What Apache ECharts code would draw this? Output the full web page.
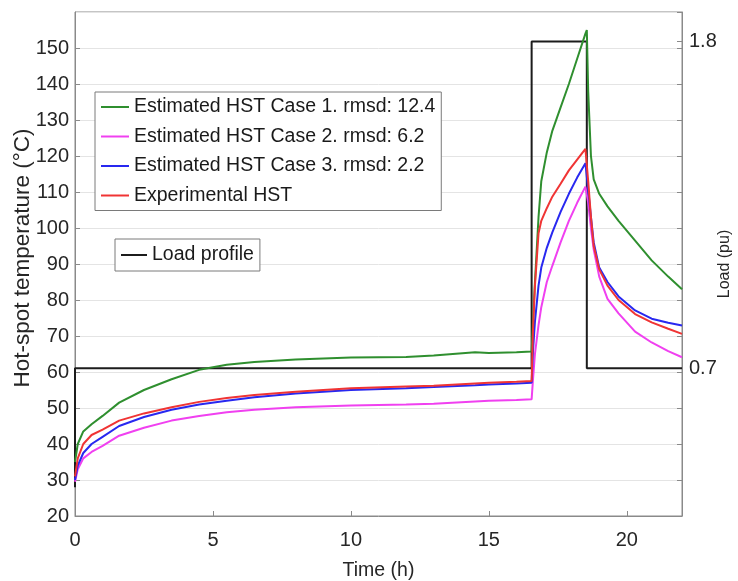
<!DOCTYPE html>
<html>
<head>
<meta charset="utf-8">
<script src="https://cdn.jsdelivr.net/npm/echarts@6/dist/echarts.min.js"></script>
<style>
html,body{margin:0;padding:0;background:#fff;}
#chart{width:738px;height:581px;}
</style>
</head>
<body>
<div id="chart"></div>
<script>
// ---- data ----
const time = [0, 0.1, 0.3, 0.6, 1, 1.6, 2.5, 3.5, 4.5, 5.5, 6.5, 8, 10, 12, 13, 14.5, 15, 16, 16.55,
  16.6, 16.67, 16.8, 16.9, 17.1, 17.3, 17.6, 17.9, 18.2, 18.5, 18.55, 18.6, 18.7, 18.8, 19.0, 19.3, 19.7, 20.3, 20.9, 21.5, 22];

const hstCase1 = [35, 40, 43.5, 45.5, 47.8, 51.5, 55, 58, 60.6, 62, 62.8, 63.5, 64, 64.2, 64.6, 65.5, 65.3, 65.5, 65.7,
  74, 85, 103, 113, 121, 127, 133.5, 140, 147, 154, 155, 138, 120, 113.5, 109.5, 106, 102, 96.5, 91, 86.5, 83];

const hstCase2 = [29.5, 33, 36, 37.8, 39.5, 42.3, 44.5, 46.5, 47.8, 48.8, 49.5, 50.2, 50.7, 51, 51.2, 51.8, 52, 52.2, 52.4,
  58, 65, 73, 78, 85, 89.5, 96, 102, 107, 111.5, 112, 107, 100, 94, 86.5, 80.3, 76.3, 71.2, 68.2, 65.8, 64.1];

const hstCase3 = [30, 34, 37.5, 40, 42, 45, 47.5, 49.5, 51, 52, 53, 54, 55, 55.5, 55.8, 56.3, 56.5, 56.8, 57,
  66, 74, 84, 89, 94.5, 98.8, 104.5, 109.5, 114, 118, 118.3, 110.5, 103, 96, 89, 85, 81, 77.1, 74.8, 73.7, 72.9];

const hstExperimental = [31, 36, 40, 42.5, 44, 46.5, 48.5, 50.2, 51.7, 52.8, 53.6, 54.5, 55.5, 56, 56.2, 56.8, 57, 57.3, 57.5,
  72, 84, 98.5, 102, 105.5, 108.7, 112.3, 116, 119, 122, 122.3, 113, 103, 95, 88.5, 84, 80, 76.1, 73.8, 72, 70.6];

const loadTime = [0, 0, 16.55, 16.55, 18.55, 18.55, 22];
const loadValue = [0.3, 0.7, 0.7, 1.8, 1.8, 0.7, 0.7];

const seriesNames = ['Estimated HST Case 1. rmsd: 12.4', 'Estimated HST Case 2. rmsd: 6.2',
  'Estimated HST Case 3. rmsd: 2.2', 'Experimental HST'];
const loadName = 'Load profile';
const loadTickLabels = [0.7, 1.8];

// ---- build ----
const zip = (xs, ys) => xs.map((x, i) => [x, ys[i]]);
const FONT = 'Liberation Sans, Arial, Helvetica, sans-serif';
const AX = '#8a8a8a';
const TXT = '#262626';
const colors = ['#2f8f2f', '#f040f0', '#2828f0', '#f03434'];
const tempData = [hstCase1, hstCase2, hstCase3, hstExperimental];

const chart = echarts.init(document.getElementById('chart'), null, {renderer: 'canvas'});

const tempSeries = tempData.map((vals, i) => ({
  name: seriesNames[i],
  type: 'line',
  yAxisIndex: 0,
  data: zip(time, vals),
  symbol: 'none',
  showSymbol: false,
  lineStyle: {width: 2, color: colors[i]},
  itemStyle: {color: colors[i]},
  z: 3
}));

const option = {
  backgroundColor: '#fff',
  animation: false,
  textStyle: {fontFamily: FONT},
  grid: {left: 75, right: 56, top: 12, bottom: 65, show: true, borderColor: AX, borderWidth: 1,
         containLabel: false, outerBoundsMode: 'none'},
  legend: [
    {
      data: seriesNames,
      orient: 'vertical',
      left: 95, top: 92,
      icon: 'rect', itemWidth: 28, itemHeight: 2, itemGap: 9.5,
      padding: [5, 6, 5, 6],
      borderColor: '#7a7a7a', borderWidth: 1, backgroundColor: '#fff',
      textStyle: {fontSize: 19.5, color: '#1a1a1a', fontFamily: FONT, lineHeight: 20},
      selectedMode: false
    },
    {
      data: [loadName],
      orient: 'vertical',
      left: 115, top: 239,
      icon: 'rect', itemWidth: 26, itemHeight: 2,
      padding: [6, 6, 6, 6],
      borderColor: '#7a7a7a', borderWidth: 1, backgroundColor: '#fff',
      textStyle: {fontSize: 19.5, color: '#1a1a1a', fontFamily: FONT, lineHeight: 20},
      selectedMode: false
    }
  ],
  xAxis: {
    type: 'value', min: 0, max: 22, interval: 5,
    name: 'Time (h)', nameLocation: 'middle', nameGap: 45, nameMoveOverlap: false,
    nameTextStyle: {fontSize: 19.5, color: TXT, fontFamily: FONT},
    axisLine: {lineStyle: {color: AX}},
    axisTick: {inside: true, length: 5, lineStyle: {color: AX}},
    axisLabel: {fontSize: 20, color: TXT, margin: 14, showMaxLabel: false, fontFamily: FONT},
    splitLine: {show: false}
  },
  yAxis: [
    {
      type: 'value', min: 20, max: 160, interval: 10, position: 'left',
      name: 'Hot-spot temperature (°C)', nameLocation: 'middle', nameGap: 41, nameRotate: 90,
      nameMoveOverlap: false,
      nameTextStyle: {fontSize: 22.5, color: TXT, fontFamily: FONT, padding: [0, 0, 0, 12]},
      axisLine: {show: true, lineStyle: {color: AX}},
      axisTick: {show: true, inside: true, length: 5, lineStyle: {color: AX}},
      axisLabel: {fontSize: 20, color: TXT, margin: 6, showMaxLabel: false, fontFamily: FONT},
      splitLine: {show: true, lineStyle: {color: '#e4e4e4', width: 1}}
    },
    {
      type: 'value', min: 0.2029, max: 1.8993, position: 'right',
      name: 'Load (pu)', nameLocation: 'middle', nameGap: 35, nameRotate: 90,
      nameMoveOverlap: false,
      nameTextStyle: {fontSize: 16, color: TXT, fontFamily: FONT},
      axisLine: {show: true, lineStyle: {color: AX}},
      axisTick: {show: true, inside: true, length: 5, customValues: loadTickLabels, lineStyle: {color: AX}},
      axisLabel: {fontSize: 20, color: TXT, margin: 7, customValues: loadTickLabels, fontFamily: FONT},
      splitLine: {show: false}
    },
    {
      type: 'value', min: 20, max: 160, interval: 10, position: 'right',
      axisLine: {show: false},
      axisTick: {show: true, inside: true, length: 5, lineStyle: {color: AX}},
      axisLabel: {show: false},
      splitLine: {show: false}
    }
  ],
  series: [
    {
      name: loadName,
      type: 'line',
      yAxisIndex: 1,
      data: zip(loadTime, loadValue),
      symbol: 'none',
      showSymbol: false,
      lineStyle: {width: 2, color: '#1c1c1c'},
      itemStyle: {color: '#1c1c1c'},
      z: 2
    }
  ].concat(tempSeries)
};

chart.setOption(option);
</script>
</body>
</html>
